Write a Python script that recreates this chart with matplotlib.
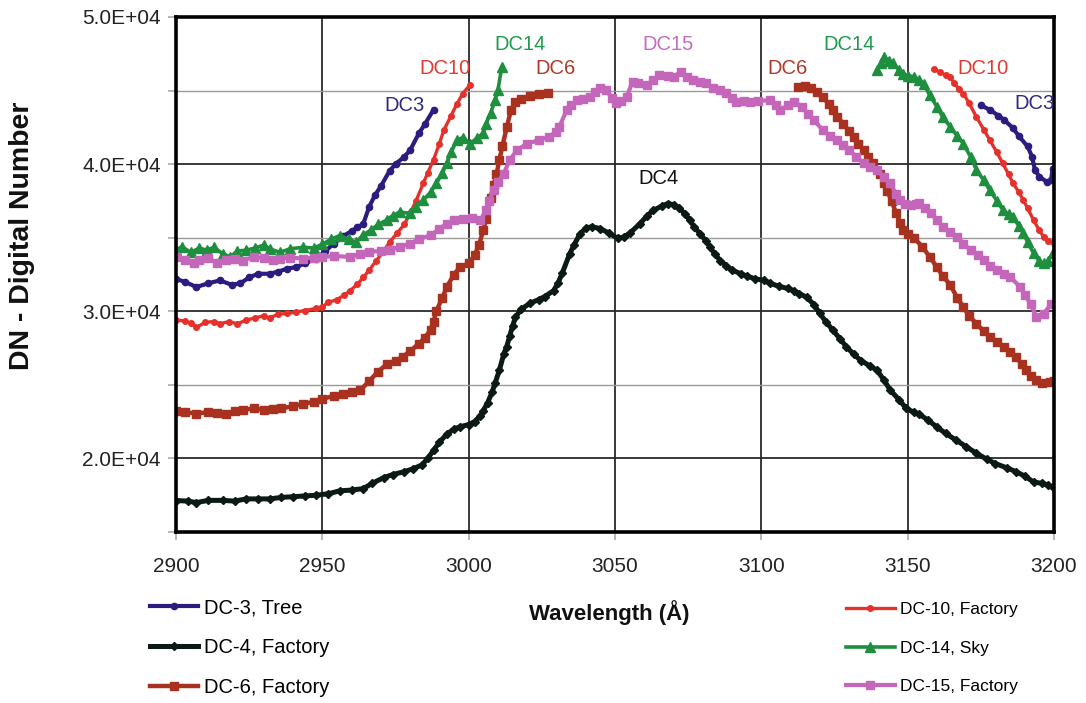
import numpy as np
import matplotlib
matplotlib.use("Agg")
import matplotlib.pyplot as plt
from matplotlib.ticker import MultipleLocator, FuncFormatter

plt.rcParams['font.family'] = ['Liberation Sans', 'DejaVu Sans']

# ---------------- data ----------------
dc3_left_x = [2900, 2903, 2907, 2911, 2915, 2919, 2922, 2925, 2928, 2932, 2935, 2938, 2941, 2944,
              2948, 2951, 2954, 2957, 2960, 2962, 2964, 2966, 2968, 2970, 2973, 2975, 2978, 2980,
              2983, 2985, 2988]
dc3_left_y = [32200, 32000, 31650, 31900, 32100, 31800, 31900, 32300, 32550, 32550, 32700, 32900,
              33000, 33250, 33580, 34100, 34600, 35100, 35450, 35700, 35950, 37100, 37900, 38500,
              39550, 40000, 40500, 40950, 42100, 42700, 43700]
dc3_right_x = [3175, 3178, 3181, 3183, 3186, 3188, 3191, 3192.5, 3193.5, 3195, 3197.5, 3199, 3199.5]
dc3_right_y = [44000, 43700, 43300, 43000, 42450, 41900, 41200, 40500, 39600, 39150, 38800, 38900, 39700]

dc4_x = [2900, 2904, 2907, 2911, 2916, 2920, 2924, 2928, 2932, 2936, 2940, 2944, 2948, 2952, 2956,
         2960, 2964, 2967, 2971, 2974, 2978, 2981, 2984, 2986, 2988, 2990, 2992.5, 2995, 2997, 3000,
         3002, 3004, 3005, 3006.5, 3008, 3009, 3010.5, 3012, 3013, 3014, 3015, 3016, 3018, 3021,
         3024, 3026, 3029, 3030.5, 3032, 3034.5, 3036, 3038, 3040, 3042, 3045, 3048, 3051, 3053,
         3055, 3058.5, 3061, 3063, 3066, 3068, 3070, 3072, 3074, 3075.5, 3077, 3079, 3081, 3082.5,
         3084, 3086, 3088, 3090, 3093, 3095, 3098, 3101, 3103, 3106, 3109, 3111, 3113, 3115.5,
         3118, 3120, 3122, 3124.5, 3127, 3129, 3131.5, 3134, 3137, 3139.5, 3142, 3144, 3147,
         3149.5, 3152, 3154, 3157, 3160, 3163, 3166.5, 3170, 3173.5, 3177, 3180, 3184, 3187,
         3190, 3193, 3196, 3198, 3200]
dc4_y = [17140, 17100, 17000, 17150, 17150, 17100, 17250, 17250, 17250, 17350, 17400, 17450, 17500,
         17600, 17800, 17850, 17950, 18300, 18700, 18900, 19100, 19300, 19550, 20000, 20550, 21100,
         21650, 22000, 22150, 22300, 22500, 22900, 23250, 23800, 24500, 25100, 26000, 27100, 27600,
         28300, 29000, 29600, 30150, 30550, 30800, 31000, 31400, 31900, 32600, 33900, 34500, 35250,
         35650, 35750, 35620, 35300, 34950, 35050, 35300, 35950, 36500, 36850, 37150, 37320, 37250,
         37000, 36600, 36200, 35750, 35280, 34800, 34370, 33900, 33450, 33100, 32800, 32550, 32400,
         32200, 32100, 31900, 31700, 31550, 31400, 31200, 30950, 30450, 29850, 29300, 28700, 28100,
         27600, 27100, 26650, 26300, 26000, 25300, 24650, 24000, 23400, 23150, 23000, 22600, 22130,
         21700, 21250, 20800, 20350, 19950, 19650, 19350, 19100, 18800, 18400, 18300, 18200, 18000]

dc6_left_x = [2900, 2903, 2907, 2911, 2914, 2917, 2920, 2923, 2926.5, 2930, 2933, 2936, 2940, 2943.5,
              2947, 2950, 2954, 2957, 2960, 2963, 2966, 2969, 2972, 2975, 2977.5, 2980, 2983, 2985,
              2987, 2988, 2989, 2991, 2992.5, 2995, 2997, 3000, 3002, 3003.5, 3005, 3006, 3007.5,
              3008.5, 3009.5, 3010.5, 3011.5, 3013, 3014.5, 3016, 3018, 3021, 3024, 3027]
dc6_left_y = [23250, 23150, 23050, 23150, 23100, 23000, 23200, 23300, 23400, 23300, 23350, 23400,
              23550, 23700, 23850, 24050, 24250, 24400, 24500, 24650, 25250, 25900, 26400, 26650,
              26900, 27300, 27800, 28200, 28750, 29300, 30050, 30900, 31650, 32500, 33000, 33250,
              33800, 34500, 35500, 36300, 37700, 38600, 39300, 40300, 41200, 42500, 43700, 44200,
              44450, 44650, 44750, 44850]
dc6_right_x = [3112.5, 3115, 3117, 3119, 3121, 3123, 3124.5, 3126, 3128, 3130, 3131.5, 3133, 3135,
               3136.5, 3138, 3140.5, 3142, 3143, 3144.5, 3146, 3147.5, 3148.5, 3150, 3152, 3155,
               3157.5, 3160, 3162, 3164.5, 3167, 3169, 3171, 3173.5, 3176, 3178, 3180.5, 3183, 3185,
               3187, 3189, 3190.5, 3192, 3194, 3196, 3198.5, 3200]
dc6_right_y = [45250, 45300, 45150, 44900, 44550, 44100, 43650, 43200, 42750, 42250, 41850, 41400,
               40950, 40500, 40050, 39350, 38700, 38200, 37500, 36700, 36000, 35500, 35250, 35000,
               34400, 33700, 33000, 32400, 31800, 30900, 30300, 29700, 29150, 28650, 28250, 27900,
               27550, 27200, 26900, 26400, 26000, 25600, 25300, 25150, 25200, 25250]

dc10_left_x = [2900, 2903, 2905, 2907, 2910, 2913, 2915, 2918, 2921, 2924, 2927, 2930, 2932, 2935,
               2938, 2941, 2944, 2948, 2950, 2952, 2955, 2957.5, 2959.5, 2962, 2964, 2966, 2968.5,
               2971, 2973, 2975.5, 2978, 2980, 2982, 2984.5, 2986, 2988, 2990, 2991.5, 2994, 2996,
               2998, 3000.5]
dc10_left_y = [29400, 29350, 29200, 28900, 29250, 29300, 29150, 29300, 29150, 29400, 29550, 29700,
               29550, 29800, 29850, 29950, 30050, 30200, 30300, 30600, 30800, 31100, 31400, 31850,
               32300, 32800, 33450, 34100, 34700, 35300, 35900, 36650, 37500, 38700, 39400, 40300,
               41400, 42300, 43300, 44100, 44800, 45400]
dc10_right_x = [3159, 3161, 3163, 3164.5, 3166, 3167.5, 3169, 3171, 3173.5, 3176, 3178, 3180.5,
                3182.5, 3184.5, 3186, 3188, 3189.5, 3191, 3193, 3195, 3196.5, 3198, 3199.5]
dc10_right_y = [46450, 46250, 46050, 45900, 45500, 45100, 44800, 44150, 43200, 42350, 41650, 40800,
                40050, 39300, 38700, 38100, 37550, 37000, 36200, 35500, 35050, 34800, 34700]

dc14_left_x = [2900, 2902, 2905, 2908, 2910.5, 2913, 2916, 2918.5, 2921, 2924, 2927, 2930, 2932,
               2935.5, 2939, 2943.5, 2947, 2950, 2953, 2956, 2959, 2961.5, 2964, 2966.5, 2969, 2972,
               2974, 2976.5, 2980, 2982, 2984.5, 2987, 2989, 2991, 2992.5, 2994, 2996, 2998, 3000.5,
               3003, 3005, 3006, 3007.5, 3009, 3010, 3011.3]
dc14_left_y = [34150, 34400, 34000, 34300, 34150, 34350, 33900, 33700, 34100, 34150, 34300, 34500,
               34250, 34000, 34250, 34350, 34300, 34550, 34900, 35150, 34900, 34700, 35200, 35500,
               35900, 36200, 36500, 36750, 36650, 37100, 37550, 38100, 38700, 39400, 40050, 40800,
               41650, 41800, 41400, 41800, 42100, 42750, 43450, 44350, 45030, 46600]
dc14_right_x = [3139.5, 3141, 3142, 3143.5, 3145, 3147, 3148.5, 3150, 3152, 3154, 3155.5, 3157.5,
                3160, 3162, 3164.5, 3167, 3169, 3171.5, 3173.5, 3176, 3178, 3180.5, 3182.5, 3184.5,
                3186, 3188, 3189.5, 3191, 3193, 3195, 3196.5, 3198, 3199.5]
dc14_right_y = [46400, 46900, 47300, 47000, 46850, 46400, 46150, 46000, 45950, 45700, 45450, 44700,
                43900, 43200, 42550, 41900, 41400, 40500, 39600, 38900, 38250, 37500, 36900, 36600,
                36400, 35800, 35300, 34700, 33950, 33400, 33250, 33400, 33950]

dc15_x = [2900, 2903, 2906, 2908, 2911, 2914, 2917, 2920, 2923, 2926.5, 2930, 2933, 2935.5, 2939,
          2943.5, 2947, 2950, 2954, 2959.5, 2963, 2966, 2970, 2973, 2976.5, 2980, 2983, 2987, 2990,
          2992.5, 2995, 2998, 3001, 3004, 3006, 3007, 3008.5, 3010, 3012, 3014, 3016.5, 3020, 3024,
          3027.5, 3030, 3031, 3033.5, 3035, 3037, 3039, 3041.5, 3043, 3045, 3047, 3049, 3050.5, 3052,
          3054, 3056, 3058, 3061, 3063, 3065, 3068, 3070, 3072.5, 3074.5, 3076.5, 3079, 3081, 3083.5,
          3086, 3088, 3090, 3091.5, 3094, 3096, 3099, 3103, 3105, 3106.5, 3109, 3111, 3114, 3116,
          3118, 3121, 3123.5, 3126, 3128, 3130, 3132.5, 3135, 3137, 3139.5, 3142, 3144, 3146,
          3147.5, 3149, 3151, 3153, 3154, 3156, 3158, 3160, 3162, 3164.5, 3167, 3169, 3171.5, 3174,
          3176, 3178, 3180.5, 3183, 3185, 3188.5, 3190, 3192, 3194, 3196.5, 3199]
dc15_y = [33700, 33500, 33300, 33470, 33600, 33300, 33470, 33550, 33450, 33700, 33600, 33500, 33580,
          33650, 33580, 33650, 33700, 33750, 33700, 33900, 34040, 34100, 34150, 34400, 34600, 34900,
          35170, 35600, 35950, 36200, 36250, 36350, 36200, 36870, 37500, 38230, 38800, 39360, 40270,
          40950, 41400, 41630, 41860, 42200, 42540, 43670, 44000, 44350, 44450, 44580, 44900, 45150,
          45030, 44500, 44130, 44300, 44580, 45600, 45500, 45370, 45700, 46050, 46000, 45940, 46280,
          45900, 45710, 45600, 45490, 45200, 45030, 44810, 44500, 44240, 44300, 44240, 44300, 44350,
          44000, 43670, 44000, 44240, 43900, 43400, 43000, 42300, 41900, 41630, 41300, 40950, 40500,
          40050, 39800, 39590, 39100, 38690, 38000, 37550, 37300, 37210, 37300, 37330, 37000, 36650,
          36200, 35740, 35400, 35050, 34600, 34150, 33800, 33470, 33100, 32790, 32550, 32330, 31650,
          31100, 30520, 29610, 29840, 30500]

x_ticks = [2900, 2950, 3000, 3050, 3100, 3150, 3200]
y_ticks = [20000, 30000, 40000, 50000]

# ---------------- figure ----------------
fig = plt.figure(figsize=(10.86, 7.03), dpi=100)
ax = fig.add_axes([176/1086, 1-532/703, (1054-176)/1086, (532-17)/703])

styles = {
    'dc3': dict(color='#2B1D80', marker='o', ms=4.5, lw=3.0),
    'dc4': dict(color='#0B1A12', marker='D', ms=4.5, lw=3.6),
    'dc6': dict(color='#A8321F', marker='s', ms=5.5, lw=3.2),
    'dc10': dict(color='#E5312C', marker='o', ms=4.0, lw=2.4),
    'dc14': dict(color='#1E8F3E', marker='^', ms=6.5, lw=2.6),
    'dc15': dict(color='#C466BA', marker='s', ms=6.0, lw=3.0),
}

h3, = ax.plot(dc3_left_x, dc3_left_y, **styles['dc3'])
ax.plot(dc3_right_x, dc3_right_y, **styles['dc3'])
h4, = ax.plot(dc4_x, dc4_y, **styles['dc4'])
h6, = ax.plot(dc6_left_x, dc6_left_y, **styles['dc6'])
ax.plot(dc6_right_x, dc6_right_y, **styles['dc6'])
h10, = ax.plot(dc10_left_x, dc10_left_y, **styles['dc10'])
ax.plot(dc10_right_x, dc10_right_y, **styles['dc10'])
h14, = ax.plot(dc14_left_x, dc14_left_y, **styles['dc14'])
ax.plot(dc14_right_x, dc14_right_y, **styles['dc14'])
h15, = ax.plot(dc15_x, dc15_y, **styles['dc15'])

ax.set_xlim(2900, 3200)
ax.set_ylim(15000, 50000)
ax.set_xticks(x_ticks)
ax.set_yticks(y_ticks)
ax.yaxis.set_minor_locator(MultipleLocator(5000))
ax.yaxis.set_major_formatter(FuncFormatter(lambda v, p: '{:.1E}'.format(v)))
ax.grid(True, which='major', axis='both', color='#2a2a2a', lw=1.3, zorder=0)
ax.grid(True, which='minor', axis='y', color='#9a9a9a', lw=1.0, zorder=0)
ax.set_axisbelow(True)
for s in ax.spines.values():
    s.set_linewidth(2.6)
    s.set_color('black')
ax.tick_params(axis='both', which='both', direction='out', length=6, color='#aaaaaa', width=1.2)
ax.tick_params(axis='y', which='major', labelsize=15, pad=5, labelcolor='#222222')
ax.tick_params(axis='x', which='major', labelsize=15, pad=12, labelcolor='#222222')

# in-plot labels
lab = [
    ('DC3', 2978, 44000, '#2E2A80'),
    ('DC10', 2992, 46500, '#E23A33'),
    ('DC14', 3017.5, 48150, '#1E9B4E'),
    ('DC6', 3029.5, 46500, '#B03A2A'),
    ('DC15', 3068, 48150, '#C76BC0'),
    ('DC4', 3065, 39050, '#111111'),
    ('DC6', 3109, 46500, '#B03A2A'),
    ('DC14', 3130, 48150, '#1E9B4E'),
    ('DC10', 3175.7, 46500, '#E23A33'),
    ('DC3', 3193.5, 44150, '#2E2A80'),
]
for t, x, y, c in lab:
    ax.text(x, y, t, color=c, fontsize=14.5, ha='center', va='center', clip_on=False)

fig.text(22/1086, 1-236/703, 'DN - Digital Number', rotation=90, fontsize=20.5,
         fontweight='bold', ha='center', va='center', color='#111111')
fig.text(609/1086, 1-613/703, 'Wavelength (Å)', fontsize=16, fontweight='bold',
         ha='center', va='center', color='#111111')

leg_kw = dict(frameon=False, borderpad=0, borderaxespad=0, markerscale=1.0, handletextpad=0.3)
fig.legend([h3, h4, h6], ['DC-3, Tree', 'DC-4, Factory', 'DC-6, Factory'],
           loc='upper left', bbox_to_anchor=(150/1086, 1-598/703), fontsize=14.5,
           labelspacing=1.05, handlelength=2.4, **leg_kw)
fig.legend([h10, h14, h15], ['DC-10, Factory', 'DC-14, Sky', 'DC-15, Factory'],
           loc='upper left', bbox_to_anchor=(846/1086, 1-602/703), fontsize=12.5,
           labelspacing=1.35, handlelength=2.8, **leg_kw)

fig.savefig('out.png', dpi=100)
